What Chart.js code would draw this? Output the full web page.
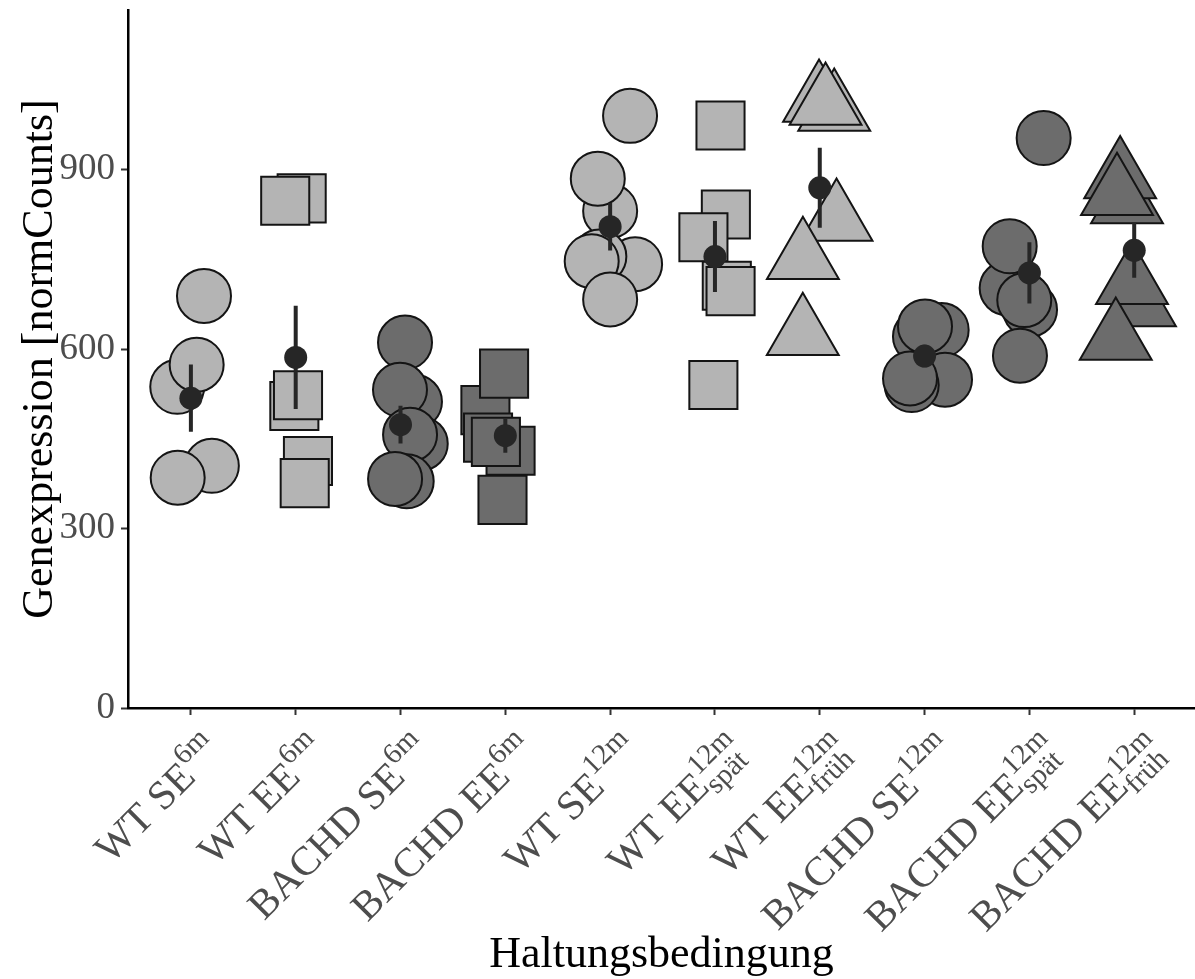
<!DOCTYPE html>
<html>
<head>
<meta charset="utf-8">
<script src="https://cdn.jsdelivr.net/npm/chart.js@4.4.1/dist/chart.umd.min.js"></script>
<style>
  html, body { margin: 0; padding: 0; background: #ffffff; }
  #wrap { width: 1195px; height: 979px; position: relative; }
</style>
</head>
<body>
<div id="wrap"><canvas id="chart" width="1195" height="979"></canvas></div>
<script>
// Category labels: main text, superscript and subscript parts
const labelMain = ['WT SE', 'WT EE', 'BACHD SE', 'BACHD EE', 'WT SE', 'WT EE', 'WT EE', 'BACHD SE', 'BACHD EE', 'BACHD EE'];
const labelSup  = ['6m', '6m', '6m', '6m', '12m', '12m', '12m', '12m', '12m', '12m'];
const labelSub  = ['', '', '', '', '', 'spät', 'früh', '', 'spät', 'früh'];
const yTicks = [0, 300, 600, 900];

// Normalized counts, one value per animal (listed in drawing order)
const wtSE6m        = [689, 537, 574, 405, 385];
const wtEE6m        = [852, 848, 505, 523, 413, 376];
const bachdSE6m     = [611, 512, 532, 442, 457, 379, 383];
const bachdEE6m     = [498, 559, 452, 430, 445, 348];
const wtSE12m       = [990, 831, 885, 742, 755, 747, 683];
const wtEE12mSpaet  = [974, 825, 787, 706, 697, 540];
const wtEE12mFrueh  = [1015, 1000, 1010, 816, 752, 625];
const bachdSE12m    = [621, 632, 638, 549, 540, 551];
const bachdEE12mSpaet = [953, 702, 666, 772, 682, 589];
const bachdEE12mFrueh = [845, 887, 859, 673, 710, 617];

// Horizontal jitter of each animal around its category (category units)
const jitWtSE6m        = [0.125, -0.13, 0.055, 0.20, -0.126];
const jitWtEE6m        = [0.057, -0.10, -0.013, 0.022, 0.117, 0.086];
const jitBachdSE6m     = [0.043, 0.138, -0.005, 0.193, 0.091, 0.059, -0.052];
const jitBachdEE6m     = [-0.19, -0.012, -0.165, 0.05, -0.09, -0.027];
const jitWtSE12m       = [0.19, 0.0, -0.118, 0.238, -0.103, -0.176, 0.0];
const jitWtEE12mSpaet  = [0.053, 0.104, -0.11, 0.113, 0.149, -0.015];
const jitWtEE12mFrueh  = [-0.007, 0.138, 0.055, 0.16, -0.161, -0.162];
const jitBachdSE12m    = [-0.044, 0.163, 0.004, 0.195, -0.123, -0.139];
const jitBachdEE12mSpaet = [0.136, -0.217, 0.006, -0.188, -0.049, -0.09];
const jitBachdEE12mFrueh = [-0.069, -0.134, -0.164, 0.055, -0.021, -0.176];

const groupValues = [wtSE6m, wtEE6m, bachdSE6m, bachdEE6m, wtSE12m, wtEE12mSpaet, wtEE12mFrueh, bachdSE12m, bachdEE12mSpaet, bachdEE12mFrueh];
const groupJitter = [jitWtSE6m, jitWtEE6m, jitBachdSE6m, jitBachdEE6m, jitWtSE12m, jitWtEE12mSpaet, jitWtEE12mFrueh, jitBachdSE12m, jitBachdEE12mSpaet, jitBachdEE12mFrueh];

// Genotype colour and housing/time shape per group
const LIGHT = '#b4b4b4', DARK = '#6c6c6c';
const groupFill  = [LIGHT, LIGHT, DARK, DARK, LIGHT, LIGHT, LIGHT, DARK, DARK, DARK];
const groupShape = ['circle', 'rect', 'circle', 'rect', 'circle', 'rect', 'triangle', 'circle', 'circle', 'triangle'];
const shapeRadius = { circle: 27, rect: 34, triangle: 41.5 };

function meanAndSe(a) {
  const n = a.length;
  const m = a.reduce((s, v) => s + v, 0) / n;
  const sd = Math.sqrt(a.reduce((s, v) => s + (v - m) * (v - m), 0) / (n - 1));
  return [m, sd / Math.sqrt(n)];
}

const datasets = [];
groupValues.forEach((vals, i) => {
  datasets.push({
    type: 'scatter',
    data: vals.map((v, k) => ({ x: i + 1 + groupJitter[i][k], y: v })),
    pointStyle: groupShape[i],
    pointRadius: shapeRadius[groupShape[i]],
    pointHoverRadius: shapeRadius[groupShape[i]],
    backgroundColor: groupFill[i],
    borderColor: '#141414',
    borderWidth: 2,
    order: 2
  });
});

// mean ± SE per group
const errData = [];
const meanData = [];
groupValues.forEach((vals, i) => {
  const [m, se] = meanAndSe(vals);
  errData.push({ x: i + 1, y: m - se }, { x: i + 1, y: m + se }, { x: i + 1, y: null });
  meanData.push({ x: i + 1, y: m });
});
datasets.push({
  type: 'line',
  data: errData,
  showLine: true,
  spanGaps: false,
  borderColor: '#262626',
  borderWidth: 4,
  pointRadius: 0,
  borderCapStyle: 'butt',
  order: 1
});
datasets.push({
  type: 'scatter',
  data: meanData,
  pointStyle: 'circle',
  pointRadius: 11.5,
  backgroundColor: '#262626',
  borderWidth: 0,
  order: 0
});

const SERIF = '"Liberation Serif", "Times New Roman", serif';

// Rotated category labels with super- and subscripts
const richTickLabels = {
  id: 'richTickLabels',
  afterDraw(chart) {
    const { ctx, scales: { x } } = chart;
    const F = 41, f = 29;
    ctx.save();
    ctx.fillStyle = '#4d4d4d';
    ctx.textBaseline = 'alphabetic';
    ctx.textAlign = 'left';
    for (let i = 0; i < labelMain.length; i++) {
      const px = x.getPixelForValue(i + 1);
      ctx.save();
      ctx.translate(px + 10, x.top + 22);
      ctx.rotate(-Math.PI / 4);
      ctx.font = F + 'px ' + SERIF;
      const wMain = ctx.measureText(labelMain[i]).width;
      ctx.font = f + 'px ' + SERIF;
      const wSup = ctx.measureText(labelSup[i]).width;
      const total = wMain + wSup;
      const supBase = 0.46 * f;
      const base = supBase + 0.45 * F;
      ctx.font = F + 'px ' + SERIF;
      ctx.fillText(labelMain[i], -total, base);
      ctx.font = f + 'px ' + SERIF;
      ctx.fillText(labelSup[i], -wSup, supBase);
      if (labelSub[i]) ctx.fillText(labelSub[i], -wSup, base + 0.2 * F);
      ctx.restore();
    }
    ctx.restore();
  }
};

new Chart(document.getElementById('chart'), {
  type: 'scatter',
  data: { datasets },
  options: {
    responsive: false,
    animation: false,
    devicePixelRatio: 1,
    layout: { padding: { top: 10, left: 0, right: 0, bottom: 0 }, autoPadding: false },
    plugins: { legend: { display: false }, tooltip: { enabled: false } },
    scales: {
      x: {
        type: 'linear',
        min: 0.4,
        max: 10.58,
        afterBuildTicks: (s) => { s.ticks = labelMain.map((_, i) => ({ value: i + 1 })); },
        afterFit: (s) => { s.height = 271; s.paddingLeft = 0; s.paddingRight = 0; },
        ticks: { display: false },
        grid: { drawOnChartArea: false, drawTicks: true, tickLength: 7, tickColor: '#333333', tickWidth: 2 },
        border: { display: true, color: '#000000', width: 2.5 },
        title: {
          display: true,
          text: 'Haltungsbedingung',
          color: '#000000',
          font: { family: SERIF, size: 44, lineHeight: 1 },
          padding: { top: 0, bottom: 2 }
        }
      },
      y: {
        type: 'linear',
        min: 0,
        max: 1167,
        afterBuildTicks: (s) => { s.ticks = yTicks.map(v => ({ value: v })); },
        afterFit: (s) => { s.width = 128; s.paddingTop = 0; s.paddingBottom = 0; },
        ticks: { color: '#4d4d4d', font: { family: SERIF, size: 37 }, padding: 6 },
        grid: { drawOnChartArea: false, drawTicks: true, tickLength: 7, tickColor: '#333333', tickWidth: 2 },
        border: { display: true, color: '#000000', width: 2.5 },
        title: {
          display: true,
          text: 'Genexpression [normCounts]',
          color: '#000000',
          font: { family: SERIF, size: 44, lineHeight: 1.2 },
          padding: { top: 14, bottom: 0 }
        }
      }
    }
  },
  plugins: [richTickLabels]
});
</script>
</body>
</html>
